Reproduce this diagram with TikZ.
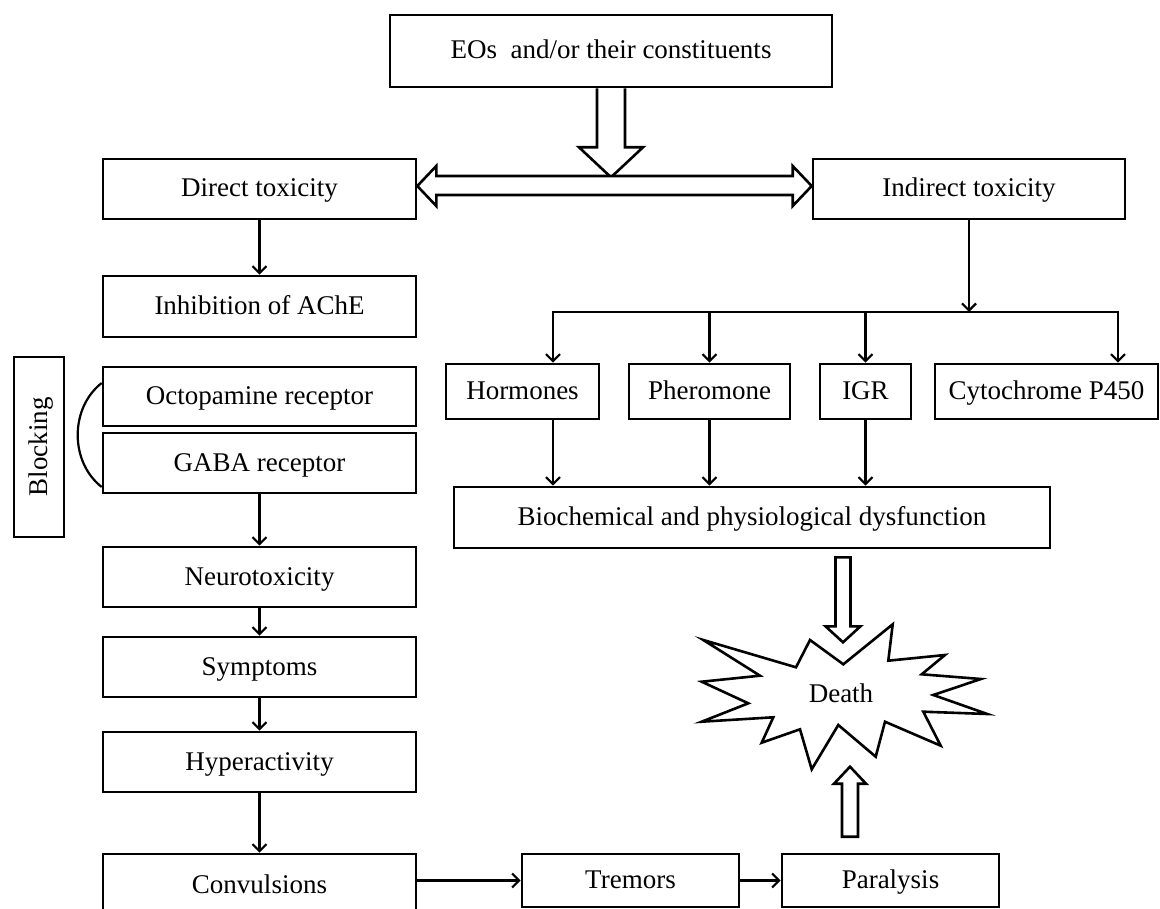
\documentclass[tikz,border=0pt]{standalone}
\usepackage{fontspec}
\setmainfont{Liberation Serif}
\usetikzlibrary{arrows.meta,calc}
\begin{document}
\begin{tikzpicture}[x=1pt,y=-1pt,
  box/.style={draw, line width=2.6pt, inner sep=0pt, text height=18pt, text depth=2pt, font=\fontsize{27}{31}\selectfont},
  arr/.style={line width=2.2pt, -{Straight Barb[length=7pt,width=14pt]}},
  plain/.style={line width=2.2pt},
  hollow/.style={draw, line width=2.6pt, fill=white, line join=miter}]
\clip (0,0) rectangle (1160,909);
\fill[white] (0,0) rectangle (1160,909);

% nodes
\node[box, minimum width=442pt, minimum height=72pt] (eos) at (611,51) {EOs~ and/or their constituents};
\node[box, minimum width=313pt, minimum height=60pt] (direct) at (259.5,189) {Direct toxicity};
\node[box, minimum width=312pt, minimum height=60pt] (indirect) at (969,189) {Indirect toxicity};
\node[box, minimum width=313pt, minimum height=61pt] (inhib) at (259.5,306.5) {Inhibition of AChE};
\node[box, minimum width=313pt, minimum height=59pt] (octo) at (259.5,396.5) {Octopamine receptor};
\node[box, minimum width=313pt, minimum height=60pt] (gaba) at (259.5,463) {GABA receptor};
\node[box, minimum width=180pt, minimum height=50pt, rotate=90] (block) at (39,447) {Blocking};
\node[box, minimum width=313pt, minimum height=60pt] (neuro) at (259.5,577) {Neurotoxicity};
\node[box, minimum width=313pt, minimum height=60pt] (symp) at (259.5,667) {Symptoms};
\node[box, minimum width=313pt, minimum height=60pt] (hyper) at (259.5,762) {Hyperactivity};
\node[box, minimum width=313pt, minimum height=62pt] (conv) at (259.5,885) {Convulsions};
\node[box, minimum width=217pt, minimum height=53pt] (trem) at (630.5,880.5) {Tremors};
\node[box, minimum width=217pt, minimum height=53pt] (para) at (890.5,880.5) {Paralysis};
\node[box, minimum width=153pt, minimum height=55pt] (hor) at (522.5,391.5) {Hormones};
\node[box, minimum width=161pt, minimum height=55pt] (pher) at (709.5,391.5) {Pheromone};
\node[box, minimum width=91pt, minimum height=55pt] (igr) at (865.5,391.5) {IGR};
\node[box, minimum width=223pt, minimum height=55pt] (cyto) at (1046.5,391.5) {Cytochrome P450};
\node[box, minimum width=596pt, minimum height=61pt] (bio) at (752,517.5) {Biochemical and physiological dysfunction};

% star
\draw[line width=2.6pt, fill=white, line join=miter]
 (843.3,664.3) -- (892.7,624.3) -- (888.3,660.7) -- (945,655) -- (921.7,674.3) -- (981,679)
 -- (933.3,695) -- (987.3,714) -- (923.3,711.7) -- (940.7,745.7) -- (885,721.7) -- (875.7,756.7)
 -- (838.3,725) -- (811.7,769.3) -- (800,729.3) -- (761.7,742.7) -- (773.3,717.3) -- (701.7,721.7)
 -- (748.3,703.3) -- (701.7,681.7) -- (760,675.7) -- (703.3,640) -- (796,667.3) -- (810,640) -- cycle;
\node[font=\fontsize{27}{31}\selectfont, text height=18pt, text depth=2pt, inner sep=0pt] (death) at (841,694) {Death};

% hollow arrows
\draw[hollow] ($(eos.south)+(-14,0)$) -- ++(0,59) -- ++(-18,0) -- ++(32,30) -- ++(32,-30) -- ++(-18,0) -- ++(0,-59);
\coordinate (dl) at ([yshift=3pt]direct.east);
\coordinate (dr) at ([yshift=3pt]indirect.west);
\draw[hollow] (dl) -- ($(dl)+(19,-20)$) -- ($(dl)+(19,-10)$) -- ($(dr)+(-19,-10)$) -- ($(dr)+(-19,-20)$)
  -- (dr) -- ($(dr)+(-19,20)$) -- ($(dr)+(-19,9)$) -- ($(dl)+(19,9)$) -- ($(dl)+(19,20)$) -- cycle;
\coordinate (dn0) at ($(bio.south -| death)+(2,8)$);
\draw[hollow] ($(dn0)+(-7.5,0)$) -- ++(0,69) -- ++(-10,0) -- ++(17.5,16) -- ++(17.5,-16) -- ++(-10,0) -- ++(0,-69) -- cycle;
\coordinate (up0) at ($(para.north -| death)+(9,-16)$);
\draw[hollow] ($(up0)+(-8,0)$) -- ++(0,-53) -- ++(-8,0) -- ++(16,-17) -- ++(16,17) -- ++(-8,0) -- ++(0,53) -- cycle;

% left column
\draw[arr] (direct) -- (inhib);
\draw[arr] (gaba) -- (neuro);
\draw[arr] (neuro) -- (symp);
\draw[arr] (symp) -- (hyper);
\draw[arr] (hyper) -- (conv);
\draw[arr] (conv.east |- trem) -- (trem);
\draw[arr] (trem) -- (para);
\draw[plain] ([yshift=13.5pt]octo.west) .. controls +(-32,25) and +(-32,-25) .. ([yshift=-24pt]gaba.west);

% right branch
\coordinate (busL) at (553,312);
\coordinate (busR) at (1118,312);
\draw[plain, line cap=rect] (busL) -- (busR);
\draw[arr] (indirect) -- (indirect |- busL);
\draw[arr] (busL) -- (busL |- hor.north);
\draw[arr] (pher |- busL) -- (pher);
\draw[arr] (igr |- busL) -- (igr);
\draw[arr] (busR) -- (busR |- cyto.north);
\draw[arr] (busL |- hor.south) -- (busL |- bio.north);
\draw[arr] (pher) -- (pher |- bio.north);
\draw[arr] (igr) -- (igr |- bio.north);
\end{tikzpicture}
\end{document}
